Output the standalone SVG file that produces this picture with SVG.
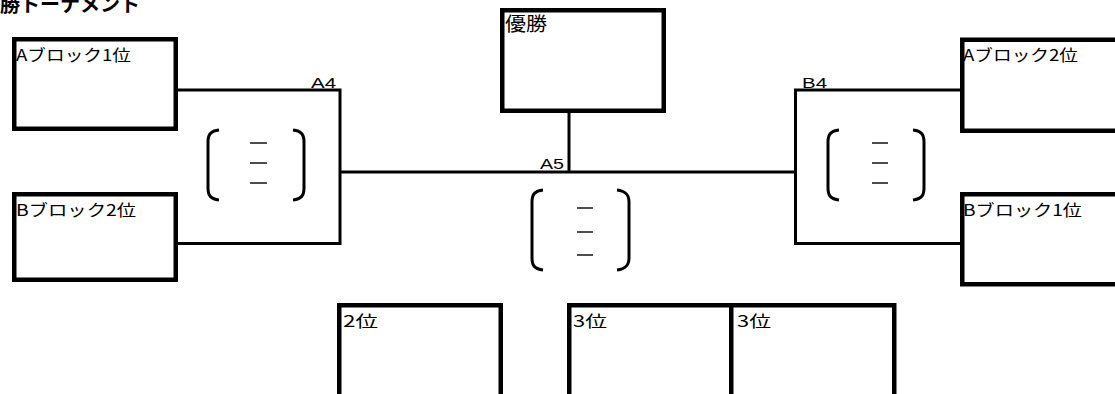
<svg xmlns="http://www.w3.org/2000/svg" width="1115" height="394" viewBox="0 0 1115 394">
<style>
.box{fill:#fff;stroke:#000;stroke-width:4.5}
.lbl{font-family:"Noto Sans CJK JP","Liberation Sans",sans-serif;font-size:16px;fill:#000}
.sm{font-family:"Liberation Sans","Noto Sans CJK JP",sans-serif;font-size:14px;fill:#000}
.title{font-family:"Noto Sans CJK JP",sans-serif;font-size:20px;font-weight:bold;fill:#000}
.ln{fill:none;stroke:#000;stroke-width:3}
.br{fill:none;stroke:#000;stroke-width:3;stroke-linecap:butt}
.dash{stroke:#000;stroke-width:1.4}
</style>
<rect width="1115" height="394" fill="#fff"/>
<text class="title" x="-20" y="12">決勝トーナメント</text>

<g id="connectors">
<path class="ln" d="M178 90 H340 V243.5 H178"/>
<path class="ln" d="M960 90 H795.5 V243.5 H960"/>
<path class="ln" d="M340 172 H795.5"/>
<path class="ln" d="M569 113 V172"/>
<text class="sm" x="311" y="87.5" textLength="25" lengthAdjust="spacingAndGlyphs">A4</text>
<text class="sm" x="540" y="168.5" textLength="24" lengthAdjust="spacingAndGlyphs">A5</text>
<text class="sm" x="802" y="87.5" textLength="25" lengthAdjust="spacingAndGlyphs">B4</text>
</g>

<g id="score-A4">
<path class="br" d="M219 130 C211 131 208 134 208 142 V188 C208 196 211 199 219 200"/>
<path class="br" d="M293 130 C301 131 304 134 304 142 V188 C304 196 301 199 293 200"/>
<line class="dash" x1="250" y1="143" x2="267" y2="143"/>
<line class="dash" x1="250" y1="163" x2="267" y2="163"/>
<line class="dash" x1="250" y1="183" x2="267" y2="183"/>
</g>
<g id="score-A5">
<path class="br" d="M543 190 C535 191 532 194 532 202 V258 C532 266 535 269 543 270"/>
<path class="br" d="M617 190 C625 191 629 194 629 202 V258 C629 266 625 269 617 270"/>
<line class="dash" x1="577" y1="208" x2="593" y2="208"/>
<line class="dash" x1="577" y1="232" x2="593" y2="232"/>
<line class="dash" x1="577" y1="255" x2="593" y2="255"/>
</g>
<g id="score-B4">
<path class="br" d="M839 130 C831 131 828 134 828 142 V188 C828 196 831 199 839 200"/>
<path class="br" d="M913 130 C921 131 924 134 924 142 V188 C924 196 921 199 913 200"/>
<line class="dash" x1="872" y1="143" x2="888" y2="143"/>
<line class="dash" x1="872" y1="163" x2="888" y2="163"/>
<line class="dash" x1="872" y1="183" x2="888" y2="183"/>
</g>

<g id="node-A1">
<rect class="box" x="14.25" y="39.25" width="161.5" height="89.5"/>
<text class="lbl" x="16" y="61" textLength="115" lengthAdjust="spacingAndGlyphs">Aブロック1位</text>
</g>
<g id="node-B2">
<rect class="box" x="14.25" y="194.25" width="161.5" height="85.5"/>
<text class="lbl" x="16" y="216" textLength="120" lengthAdjust="spacingAndGlyphs">Bブロック2位</text>
</g>
<g id="node-A2">
<rect class="box" x="962.25" y="39.75" width="160" height="91"/>
<text class="lbl" x="963" y="61" textLength="115" lengthAdjust="spacingAndGlyphs">Aブロック2位</text>
</g>
<g id="node-B1">
<rect class="box" x="962.25" y="194.25" width="160" height="90"/>
<text class="lbl" x="963" y="216" textLength="119" lengthAdjust="spacingAndGlyphs">Bブロック1位</text>
</g>
<g id="node-winner">
<rect class="box" x="502.25" y="10.25" width="161.5" height="100.5"/>
<text class="lbl" x="505" y="31" style="font-size:19px" textLength="42" lengthAdjust="spacingAndGlyphs">優勝</text>
</g>
<g id="node-2nd">
<rect class="box" x="339.25" y="305.25" width="161.5" height="100"/>
<text class="lbl" x="343" y="327" textLength="35" lengthAdjust="spacingAndGlyphs">2位</text>
</g>
<g id="node-3rd-a">
<rect class="box" x="569.25" y="305.25" width="162" height="100"/>
<text class="lbl" x="573" y="327" textLength="34" lengthAdjust="spacingAndGlyphs">3位</text>
</g>
<g id="node-3rd-b">
<rect class="box" x="731.25" y="305.25" width="163" height="100"/>
<text class="lbl" x="737" y="327" textLength="34" lengthAdjust="spacingAndGlyphs">3位</text>
</g>
</svg>
